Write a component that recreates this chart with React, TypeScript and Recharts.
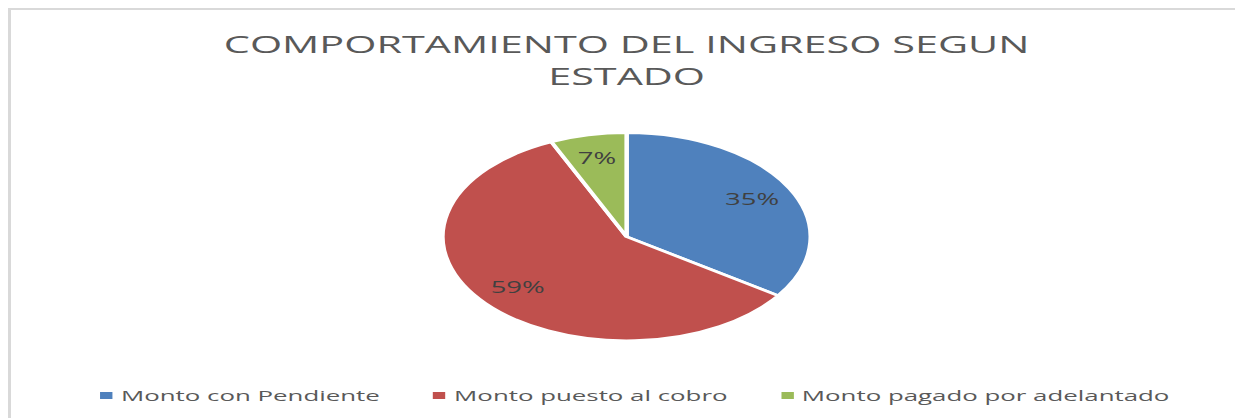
import React from 'react';
import { PieChart, Pie, Cell, Legend } from 'recharts';

const categories = ['Monto con Pendiente', 'Monto puesto al cobro', 'Monto pagado por adelantado'];
const shares = [34.6, 58.7, 6.7];
const colors = ['#4F81BD', '#C0504D', '#9BBB59'];
const titleLines = ['COMPORTAMIENTO DEL INGRESO SEGUN', 'ESTADO'];

const data = categories.map((name, i) => ({ name, value: shares[i] }));

const STRETCH = 1.77;
const CHART_W = 708;
const CHART_H = 410;
const FONT = '"Open Sans", "DejaVu Sans", sans-serif';

const RAD = Math.PI / 180;

const renderLabel = (props: any) => {
  const { cx, cy, midAngle, outerRadius, percent } = props;
  const r = outerRadius * 0.77;
  const x = cx + r * Math.cos(-midAngle * RAD);
  const y = cy + r * Math.sin(-midAngle * RAD);
  return (
    <text
      x={x}
      y={y + 5.5}
      textAnchor="middle"
      fill="#404040"
      fontFamily={FONT}
      fontSize={15.5}
    >
      {`${Math.round(percent * 100)}%`}
    </text>
  );
};

const renderLegend = (props: any) => {
  const payload: any[] = (props.payload || []).slice();
  payload.sort((a, b) => categories.indexOf(a.value) - categories.indexOf(b.value));
  return (
    <div
      style={{
        display: 'flex',
        justifyContent: 'center',
        gap: 30,
        fontFamily: FONT,
        fontSize: 14.6,
        lineHeight: '20px',
        color: '#595959',
        whiteSpace: 'nowrap',
      }}
    >
      {payload.map((entry: any, i: number) => (
        <span key={i} style={{ display: 'inline-flex', alignItems: 'center' }}>
          <span
            style={{
              display: 'inline-block',
              width: 7,
              height: 7,
              background: colors[categories.indexOf(entry.value)] || entry.color,
              marginRight: 5,
            }}
          />
          {entry.value}
        </span>
      ))}
    </div>
  );
};

export default function App() {
  return (
    <div
      style={{
        position: 'fixed',
        left: 8,
        top: 8,
        width: 1227,
        height: 410,
        overflow: 'hidden',
        background: '#fff',
        boxSizing: 'border-box',
        borderTop: '2px solid #d9d9d9',
        borderLeft: '3px solid #d9d9d9',
      }}
    >
      <div
        style={{
          position: 'absolute',
          left: -3,
          top: -2,
          width: CHART_W,
          height: CHART_H,
          transform: `scaleX(${STRETCH})`,
          transformOrigin: '0 0',
        }}
      >
        <div
          style={{
            position: 'absolute',
            left: 0,
            top: 19.5,
            width: 699,
            textAlign: 'center',
            fontFamily: FONT,
            fontSize: 23.4,
            lineHeight: '32px',
            color: '#595959',
            whiteSpace: 'nowrap',
            zIndex: 2,
          }}
        >
          {titleLines.map((t, i) => (
            <div key={i}>{t}</div>
          ))}
        </div>
        <PieChart
          width={CHART_W}
          height={CHART_H}
          margin={{ top: 0, right: 0, bottom: 0, left: 0 }}
          accessibilityLayer={false}
        >
          <Pie
            data={data}
            dataKey="value"
            nameKey="name"
            cx={349.5}
            cy={228.7}
            outerRadius={104}
            startAngle={90}
            endAngle={-270}
            stroke="#ffffff"
            strokeWidth={2.5}
            label={renderLabel}
            labelLine={false}
            isAnimationActive={false}
          >
            {data.map((d, i) => (
              <Cell key={d.name} fill={colors[i]} />
            ))}
          </Pie>
          <Legend
            verticalAlign="bottom"
            align="center"
            content={renderLegend}
            wrapperStyle={{ top: 377, bottom: 'auto', left: 0, width: CHART_W }}
          />
        </PieChart>
      </div>
      <div
        style={{
          position: 'absolute',
          right: 0,
          top: 0,
          width: 12,
          height: 410,
          background: '#fff',
          zIndex: 10,
        }}
      />
    </div>
  );
}
